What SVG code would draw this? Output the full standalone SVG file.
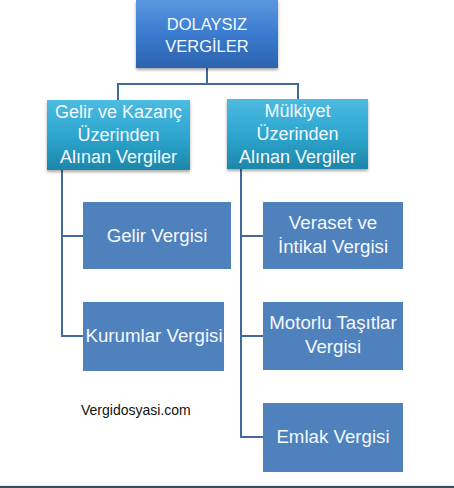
<svg xmlns="http://www.w3.org/2000/svg" width="454" height="488" viewBox="0 0 454 488">
<defs>
<linearGradient id="gTop" x1="0" y1="0" x2="0" y2="1">
<stop offset="0" stop-color="#5b97de"/>
<stop offset="0.5" stop-color="#3a7bd0"/>
<stop offset="1" stop-color="#2c63ae"/>
</linearGradient>
<linearGradient id="gMid" x1="0" y1="0" x2="0" y2="1">
<stop offset="0" stop-color="#4cbbe0"/>
<stop offset="0.5" stop-color="#2ea6d0"/>
<stop offset="1" stop-color="#1d87a9"/>
</linearGradient>
<filter id="sh" x="-10%" y="-10%" width="120%" height="130%">
<feDropShadow dx="0" dy="2" stdDeviation="1.5" flood-color="#000" flood-opacity="0.35"/>
</filter>
<style>
.t{font-family:"Liberation Sans",Arial,sans-serif;fill:#f4f9ff;text-anchor:middle}
.top{font-size:16.5px}
.mid{font-size:18px}
.leaf{font-size:18.7px}
.leafbox{fill:#4f81bd}
.conn{fill:none;stroke:#44699f;stroke-width:2}
</style>
</defs>
<rect width="454" height="488" fill="#ffffff"/>
<g id="connectors">
<path class="conn" d="M207 68 V84 M118 100 V84 H298 V99"/>
<path class="conn" d="M62 170 V336 H83 M62 236 H83"/>
<path class="conn" d="M241 169 V437 H263 M241 236 H263 M241 336 H263"/>
</g>
<g id="n-dolaysiz">
<rect x="136" y="0" width="142" height="68" fill="url(#gTop)" filter="url(#sh)"/>
<text class="t top" x="207" y="30">DOLAYSIZ</text>
<text class="t top" x="207" y="52">VERGİLER</text>
</g>
<g id="n-gelir-kazanc">
<rect x="47" y="100" width="143" height="70" fill="url(#gMid)" filter="url(#sh)"/>
<text class="t mid" x="118.5" y="118">Gelir ve Kazanç</text>
<text class="t mid" x="118.5" y="141">Üzerinden</text>
<text class="t mid" x="118.5" y="163">Alınan Vergiler</text>
</g>
<g id="n-mulkiyet">
<rect x="227" y="99" width="141" height="70" fill="url(#gMid)" filter="url(#sh)"/>
<text class="t mid" x="297.5" y="117">Mülkiyet</text>
<text class="t mid" x="297.5" y="140">Üzerinden</text>
<text class="t mid" x="297.5" y="163">Alınan Vergiler</text>
</g>
<g id="n-gelir-vergisi">
<rect class="leafbox" x="83" y="202" width="148" height="67"/>
<text class="t leaf" x="157" y="242">Gelir Vergisi</text>
</g>
<g id="n-kurumlar">
<rect class="leafbox" x="83" y="302" width="141" height="69"/>
<text class="t leaf" x="154" y="342">Kurumlar Vergisi</text>
</g>
<g id="n-veraset">
<rect class="leafbox" x="263" y="202" width="140" height="67"/>
<text class="t leaf" x="333" y="229">Veraset ve</text>
<text class="t leaf" x="333" y="253">İntikal Vergisi</text>
</g>
<g id="n-motorlu">
<rect class="leafbox" x="263" y="302" width="140" height="68"/>
<text class="t leaf" x="333" y="329">Motorlu Taşıtlar</text>
<text class="t leaf" x="333" y="353">Vergisi</text>
</g>
<g id="n-emlak">
<rect class="leafbox" x="263" y="403" width="140" height="69"/>
<text class="t leaf" x="333" y="443">Emlak Vergisi</text>
</g>
<text x="81" y="415" font-family="'Liberation Sans',Arial,sans-serif" font-size="14" fill="#111">Vergidosyasi.com</text>
<rect x="0" y="485" width="454" height="1" fill="#e4eef6"/>
<rect x="0" y="486" width="454" height="2" fill="#3d4b5c"/>
</svg>
